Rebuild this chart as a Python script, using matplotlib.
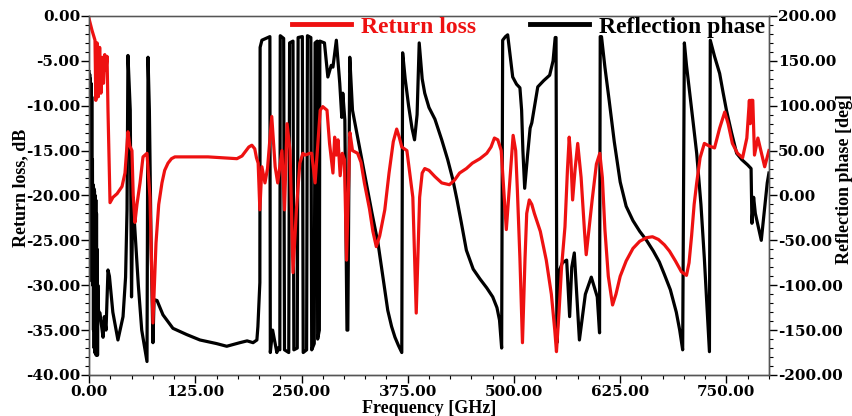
import numpy as np
import matplotlib.pyplot as plt
from matplotlib.ticker import MultipleLocator, FormatStrFormatter

# return loss (dB) vs frequency (GHz)
rl_freq = [0, 3.5, 7, 8, 9.5, 11, 12.5, 14, 15.5, 17, 18.5, 20, 21.2, 22.3, 24.7, 28.2,
           33, 38.8, 42.3, 45.8, 48, 50.5, 52, 54, 56.4, 60, 63.5, 68.2, 71.7, 75.2,
           78.8, 82, 85.8, 89, 92.9, 97, 101, 140, 174, 180, 184, 188, 191.6, 195, 197,
           199, 201, 203.4, 207, 210, 215, 219, 222, 227, 230, 233, 236.5, 240, 244, 248,
           251.6, 254, 260, 262, 266, 272, 275, 280, 283, 287, 289, 291, 293, 295.5, 298,
           300.5, 303, 307, 310, 316, 320, 324, 330, 334, 338, 342, 348, 353, 358, 362,
           365, 368, 374, 381, 385, 389, 392, 395, 400, 407, 415, 424, 430, 436, 444, 451,
           460, 468, 473, 477, 481, 485, 491, 499, 502, 504, 507, 510, 513, 515, 518, 521,
           524, 531, 538, 544, 548, 550, 553, 556, 560, 563, 565, 567, 569, 572, 575, 579,
           583, 585, 588, 592, 597, 601, 604, 607, 611, 616, 620, 625, 632, 640, 648, 656,
           663, 670, 677, 683, 690, 697, 703, 706, 709, 712, 715, 719, 724, 730, 736, 742,
           748, 752, 757, 763, 769, 774, 777, 778, 779, 781, 783, 787, 795, 800]
rl_db = [-0.3, -1.6, -2.7, -9.4, -3.0, -9.0, -3.5, -8.6, -4.6, -7.5, -4.3, -6.0, -4.5,
         -10.5, -20.8, -20.2, -19.8, -19.0, -17.5, -12.9, -14.5, -15.0, -20.0, -23.0,
         -21.0, -18.6, -15.7, -15.3, -20.2, -34.2, -25.3, -21.0, -18.6, -17.2, -16.4,
         -15.9, -15.7, -15.7, -15.9, -15.6, -15.1, -14.6, -14.4, -14.8, -15.8, -16.4,
         -21.6, -16.8, -18.6, -17.0, -11.2, -16.8, -18.6, -15.0, -21.6, -12.0, -15.0,
         -28.6, -21.6, -16.4, -15.3, -15.5, -15.3, -15.3, -18.6, -10.5, -10.1, -10.5,
         -14.2, -17.5, -13.5, -15.5, -13.8, -17.8, -15.3, -16.0, -27.2, -13.0, -15.0,
         -15.3, -16.3, -18.6, -21.5, -24.0, -25.7, -24.5, -21.6, -17.5, -14.0, -12.6,
         -13.5, -14.6, -15.0, -20.2, -33.1, -20.2, -17.5, -17.0, -17.2, -17.9, -18.6,
         -18.8, -18.3, -17.5, -17.0, -16.4, -15.9, -15.3, -14.6, -13.6, -13.8, -15.0,
         -23.8, -13.3, -15.0, -19.4, -27.0, -36.4, -27.0, -22.0, -20.5, -21.0, -22.0,
         -24.0, -27.2, -31.0, -35.0, -37.4, -33.0, -28.0, -23.5, -17.0, -13.5, -16.0,
         -20.5, -17.0, -14.2, -18.0, -24.0, -26.6, -24.0, -20.5, -16.5, -15.3, -18.0,
         -23.8, -29.0, -32.2, -31.0, -29.0, -27.3, -25.9, -25.1, -24.7, -24.6, -24.9,
         -25.5, -26.2, -27.3, -28.5, -28.9, -27.5, -24.5, -21.0, -18.6, -15.8, -14.2,
         -14.5, -14.7, -12.5, -10.7, -12.0, -14.2, -15.3, -15.8, -13.6, -9.4, -12.0,
         -9.4, -9.4, -15.5, -13.6, -16.8, -15.0]

# reflection phase (deg) vs frequency (GHz)
ph_freq = [0, 0.4, 0.8, 1.2, 1.6, 2.0, 2.4, 2.8, 3.2, 3.6, 4.0, 4.4, 4.8, 5.2, 5.6, 6.0,
           6.4, 6.8, 7.2, 7.6, 8.0, 8.4, 8.8, 9.2, 9.6, 10.0, 10.4, 10.8, 11.5, 12.9, 14,
           16.5, 18, 20, 22.3, 24, 28, 34, 40, 43, 44.7, 45.8, 47, 48.5, 50, 51.5, 53.5,
           58, 62, 68.2, 69.4, 71, 73, 75.2, 76.5, 80, 87, 98.7, 115, 130.5, 150, 162,
           177.5, 186, 193, 197.5, 198.7, 201, 201.3, 203.4, 212.8, 213.3, 216, 219, 221,
           222, 224.5, 225, 229, 230, 235, 236, 240, 241, 245, 246, 251, 252, 256, 257,
           261, 262, 265, 266, 268.5, 269, 271, 271.6, 277, 281, 285, 287, 291, 295,
           297.4, 298.6, 301, 303.5, 304.5, 306.8, 310, 318, 326, 333, 340, 346, 351.5,
           356, 360, 364, 368, 369, 372, 376, 380, 383, 386, 388.5, 392, 395, 400, 407,
           415, 422, 428, 433, 438, 444, 452, 460, 468, 475, 480, 483, 485.5, 486.7, 490,
           492.6, 495, 498.5, 503, 507, 509, 510.5, 512.6, 516, 519, 521, 528, 535, 542,
           546, 548.5, 549.5, 550.5, 553.7, 557, 562, 565.5, 568, 571, 577, 584, 591, 598,
           600.7, 601.5, 603, 605, 607, 612, 618, 625, 632, 640, 648, 656, 664, 671, 677,
           684, 691, 695, 698.5, 700.5, 703, 706.5, 711, 715, 720, 724, 726.5, 730, 731,
           736, 742, 746, 750, 756, 762, 768, 775, 779, 780, 782, 784, 791, 798, 800]
ph_deg = [138, -90, 135, -92, 130, -88, 125, -95, 110, -90, 40, -100, 12, -150, 8, -170,
          5, -175, 0, -176, -5, -178, -20, -175, -60, -178, -100, -125, -130, -131,
          -140, -158, -135, -150, -83, -90, -130, -161, -135, -91, -16, 156, 130, 95,
          -113, -2, -31, -100, -150, -185, 154, 95, -53, -164, -116, -117, -133, -148,
          -155, -161, -165, -168, -164, -162, -164, -161, -146, -97, 165, 173, 177, -175,
          -150, -165, -175, -170, -172, 178, 175, -172, -175, 170, 172, -172, -170, 176,
          177, -175, -172, 178, 176, -172, -165, 170, 172, -160, -150, 172, 170, 132,
          145, 143, 173, 125, 87, 114, 84, -150, -150, 154, 95, 55, 15, -20, -53, -92,
          -128, -146, -158, -167, -175, 159, 130, 100, 75, 62, 90, 170, 130, 114, 98, 85,
          62, 40, 18, -5, -30, -61, -82, -93, -103, -113, -125, -139, -170, 173, 177,
          179, 160, 132, 124, 120, 95, 50, 8, 45, 75, 81, 121, 128, 134, 150, 176, 176,
          -164, -83, -75, -72, -135, -80, -64, -161, -110, -91, -113, -153, 177, 177,
          160, 143, 106, 60, 15, -12, -28, -40, -50, -62, -74, -88, -105, -130, -150,
          -172, 170, 145, 117, 80, 47, -10, -70, -113, -174, 173, 155, 136, 115, 95, 70,
          47, 40, 34, 30, -31, -2, -20, -50, 14, 25]

serif = ['Liberation Serif', 'DejaVu Serif']
tick_font = {'family': ['DejaVu Serif'], 'weight': 'bold', 'size': 11}

fig = plt.figure(figsize=(8.52, 4.16), dpi=100)
ax = fig.add_axes([0.1045, 0.0986, 0.798, 0.863])
ax2 = ax.twinx()

line_ph, = ax2.plot(ph_freq, ph_deg, color='black', lw=2.3, label='Reflection phase')
line_rl, = ax.plot(rl_freq, rl_db, color='#ee1111', lw=2.3, label='Return loss')

# return loss on top of the phase curve
ax.set_zorder(ax2.get_zorder() + 1)
ax.patch.set_visible(False)

ax.set_xlim(0, 800)
ax.set_ylim(-40, 0)
ax2.set_ylim(-200, 200)

ax.xaxis.set_major_locator(MultipleLocator(125))
ax.xaxis.set_minor_locator(MultipleLocator(25))
ax.yaxis.set_major_locator(MultipleLocator(5))
ax.yaxis.set_minor_locator(MultipleLocator(1))
ax2.yaxis.set_major_locator(MultipleLocator(50))
ax2.yaxis.set_minor_locator(MultipleLocator(10))
for a in (ax.xaxis, ax.yaxis, ax2.yaxis):
    a.set_major_formatter(FormatStrFormatter('%.2f'))

for a in (ax, ax2):
    a.tick_params(which='major', direction='out', length=6, width=1, pad=0.5)
    a.tick_params(which='minor', direction='out', length=3, width=0.8)
    for lab in a.get_xticklabels() + a.get_yticklabels():
        lab.set_fontproperties(tick_font)
    for s in a.spines.values():
        s.set_color('#555555')
        s.set_linewidth(1)
ax2.spines['top'].set_color('#999999')
ax.tick_params(axis='x', which='major', pad=1.5)

label_font = {'family': serif, 'weight': 'bold', 'size': 13}
ax.set_xlabel('Frequency [GHz]', fontdict=label_font)
ax.set_ylabel('Return loss, dB', fontdict=label_font)
ax2.set_ylabel('Reflection phase [deg]', fontdict=label_font)
ax.xaxis.set_label_coords(0.5, -0.07)
ax.yaxis.set_label_coords(-0.088, 0.52)
ax2.yaxis.set_label_coords(1.098, 0.545)

leg = ax.legend(handles=[line_rl, line_ph], loc='upper left', bbox_to_anchor=(0.298, 1.0),
                ncol=2, frameon=False, borderpad=0, borderaxespad=0, handlelength=2.5,
                handletextpad=0.45, columnspacing=2.25,
                prop={'family': serif, 'weight': 'bold', 'size': 17})
for h in leg.legend_handles:
    h.set_linewidth(3.5)
for t, c in zip(leg.get_texts(), ['#ee1111', 'black']):
    t.set_color(c)

fig.savefig('out.png', dpi=100)
